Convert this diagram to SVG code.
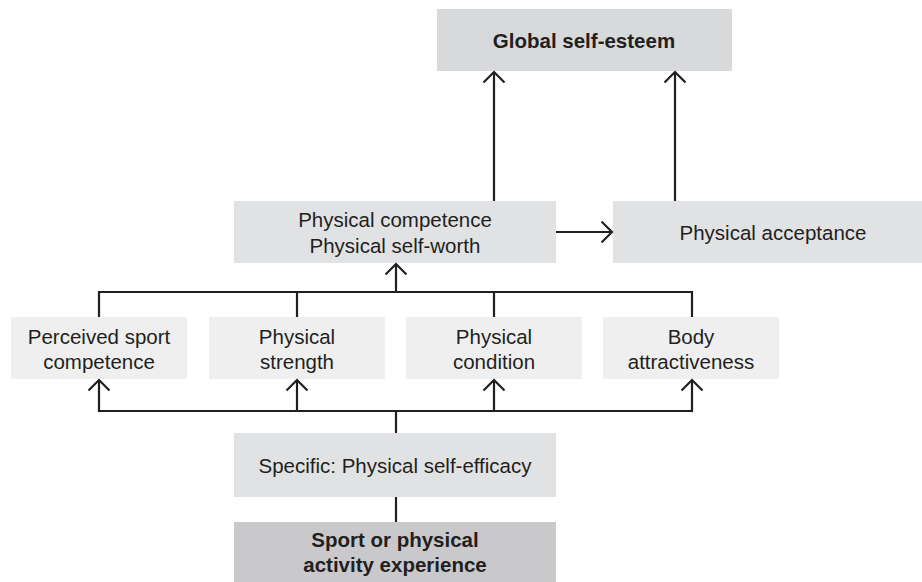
<svg xmlns="http://www.w3.org/2000/svg" width="922" height="582" viewBox="0 0 922 582">
<style>
text{font-family:"Liberation Sans",Arial,sans-serif;font-size:20.5px;fill:#231f20;text-anchor:middle}
.b{font-weight:bold}
.ln{fill:none;stroke:#231f20;stroke-width:2.2}
.mid{fill:#e1e2e4}
.lt{fill:#efefef}
.dk{fill:#c9c9cb}
.gl{fill:#d8d9db}
</style>
<defs>
<marker id="ah" markerUnits="userSpaceOnUse" markerWidth="14" markerHeight="24" viewBox="0 0 14 24" refX="12" refY="12" orient="auto">
<path d="M1.5,1.5 L12,12 L1.5,22.5" fill="none" stroke="#231f20" stroke-width="2.2"/>
</marker>
</defs>
<g id="global"><rect class="gl" x="437" y="9" width="295" height="62"/><text class="b" x="584" y="48">Global self-esteem</text></g>
<g id="competence"><rect class="mid" x="234" y="201" width="322" height="62"/><text x="395" y="227">Physical competence</text><text x="395" y="253">Physical self-worth</text></g>
<g id="acceptance"><rect class="mid" x="613" y="201" width="309" height="62"/><text x="773" y="240">Physical acceptance</text></g>
<g id="sport"><rect class="lt" x="11" y="317" width="176" height="62"/><text x="99" y="344">Perceived sport</text><text x="99" y="369">competence</text></g>
<g id="strength"><rect class="lt" x="209" y="317" width="176" height="62"/><text x="297" y="344">Physical</text><text x="297" y="369">strength</text></g>
<g id="condition"><rect class="lt" x="406" y="317" width="176" height="62"/><text x="494" y="344">Physical</text><text x="494" y="369">condition</text></g>
<g id="body"><rect class="lt" x="603" y="317" width="176" height="62"/><text x="691" y="344">Body</text><text x="691" y="369">attractiveness</text></g>
<g id="efficacy"><rect class="mid" x="234" y="433" width="322" height="64"/><text x="395" y="473">Specific: Physical self-efficacy</text></g>
<g id="experience"><rect class="dk" x="234" y="522" width="322" height="60"/><text class="b" x="395" y="547">Sport or physical</text><text class="b" x="395" y="572">activity experience</text></g>
<g id="connectors">
<line class="ln" x1="494" y1="201" x2="494" y2="72" marker-end="url(#ah)"/>
<line class="ln" x1="675" y1="201" x2="675" y2="72" marker-end="url(#ah)"/>
<line class="ln" x1="556" y1="232" x2="612" y2="232" marker-end="url(#ah)"/>
<line class="ln" x1="396" y1="292" x2="396" y2="264" marker-end="url(#ah)"/>
<polyline class="ln" points="99,317 99,292 692,292 692,317"/>
<line class="ln" x1="297" y1="292" x2="297" y2="317"/>
<line class="ln" x1="494" y1="292" x2="494" y2="317"/>
<line class="ln" x1="99" y1="411" x2="692" y2="411"/>
<line class="ln" x1="99" y1="412.1" x2="99" y2="380" marker-end="url(#ah)"/>
<line class="ln" x1="297" y1="411" x2="297" y2="380" marker-end="url(#ah)"/>
<line class="ln" x1="494" y1="411" x2="494" y2="380" marker-end="url(#ah)"/>
<line class="ln" x1="692" y1="412.1" x2="692" y2="380" marker-end="url(#ah)"/>
<line class="ln" x1="396" y1="411" x2="396" y2="433"/>
<line class="ln" x1="396" y1="497" x2="396" y2="522"/>
</g>
</svg>
